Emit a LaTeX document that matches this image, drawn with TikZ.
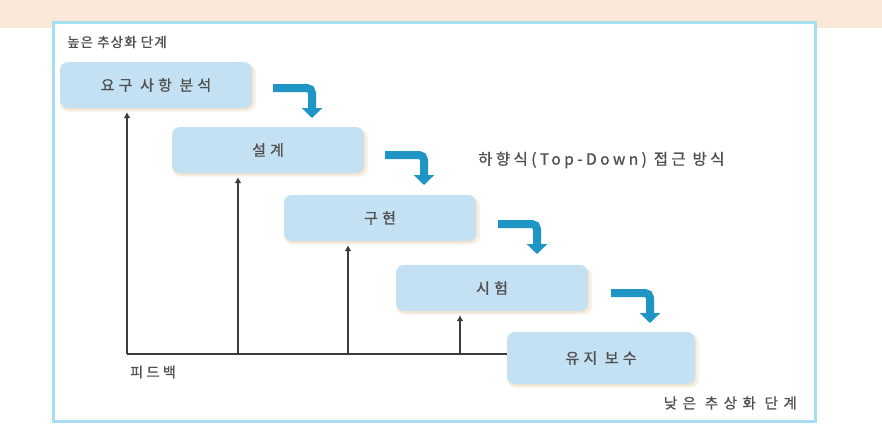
\documentclass[tikz,border=0pt]{standalone}
\usepackage{fontspec}
\setmainfont{Noto Sans CJK KR}
\newfontfamily\lblA[LetterSpace=8,FakeBold=0.8]{Noto Sans CJK KR}
\newfontfamily\lblB[LetterSpace=38,FakeBold=0.8]{Noto Sans CJK KR}
\newfontfamily\lblC[LetterSpace=22,FakeBold=0.8]{Noto Sans CJK KR}
\newfontfamily\lblD[LetterSpace=25,FakeBold=0.8]{Noto Sans CJK KR}
\newfontfamily\boxf[LetterSpace=28,FakeBold=0.8]{Noto Sans CJK KR}
\usetikzlibrary{arrows.meta,shadows}
\definecolor{peach}{HTML}{FCE8D9}
\definecolor{framec}{HTML}{A6E0F0}
\definecolor{boxc}{HTML}{C3E1F2}
\definecolor{shadc}{HTML}{EAD9BE}
\definecolor{arrc}{HTML}{1F95C5}
\definecolor{linec}{HTML}{3C3C3C}
\definecolor{txtc}{HTML}{505050}
\tikzset{
  stage/.style={draw=none, fill=boxc, rounded corners=8pt, minimum width=192pt, minimum height=46pt,
    font=\boxf\fontsize{15}{17}\selectfont, text=txtc,
    general shadow={fill=shadc, opacity=0.35, shadow xshift=2pt, shadow yshift=-3pt, shadow scale=1.02},
    general shadow={fill=shadc, opacity=0.5, shadow xshift=1pt, shadow yshift=-2pt}},
  bendarrow/.style={draw=arrc, line width=8pt, rounded corners=5pt,
    -{Triangle[width=20pt,length=10pt]}},
  fbline/.style={draw=linec, line width=1.3pt},
  fbarrow/.style={fbline, -{Latex[length=6pt,width=7pt]}, shorten >=4pt},
  label/.style={text=txtc, inner sep=0pt}
}
\begin{document}
\begin{tikzpicture}[x=1pt,y=-1pt]
\useasboundingbox (0,0) rectangle (882,444);
\fill[white] (0,0) rectangle (882,444);
\fill[peach] (0,0) rectangle (882,28);
\draw[framec, line width=3pt, fill=white] (53,23) rectangle (815,421);

\node[label, anchor=west, font=\lblA\fontsize{13.5}{15}\selectfont] (hi) at (67,42) {높은 추상화 단계};
\node[label, anchor=east, font=\lblB\fontsize{14.5}{16}\selectfont] (lo) at (797,403) {낮은 추상화 단계};
\node[label, anchor=west, font=\lblC\fontsize{15.5}{17}\selectfont] (td) at (478,160) {하향식(Top-Down) 접근 방식};
\node[label, anchor=west, font=\lblD\fontsize{14}{16}\selectfont] (fb) at (130,372) {피드백};

\node[stage] (b1) at (156,85) {요구 사항 분석};
\node[stage] (b2) at (268,150) {설계};
\node[stage] (b3) at (380,218) {구현};
\node[stage] (b4) at (492,288) {시험};
\node[stage, minimum height=52pt, minimum width=188pt] (b5) at (601,358) {유지 보수};

\coordinate (a1s) at (273,88); \coordinate (a1c) at (312,88); \coordinate (a1e) at (312,118);
\coordinate (a2s) at (385,155); \coordinate (a2c) at (424,155); \coordinate (a2e) at (424,185);
\coordinate (a3s) at (498,224); \coordinate (a3c) at (537,224); \coordinate (a3e) at (537,254);
\coordinate (a4s) at (611,293); \coordinate (a4c) at (650,293); \coordinate (a4e) at (650,323);
\draw[bendarrow] (a1s) -- (a1c) -- (a1e);
\draw[bendarrow] (a2s) -- (a2c) -- (a2e);
\draw[bendarrow] (a3s) -- (a3c) -- (a3e);
\draw[bendarrow] (a4s) -- (a4c) -- (a4e);

\coordinate (f1) at (127,354);
\coordinate (f2) at (238,354);
\coordinate (f3) at (348,354);
\coordinate (f4) at (460,354);
\draw[fbline] (f1) -- (f1 -| b5.west);
\draw[fbarrow] (f1) -- (f1 |- b1.south);
\draw[fbarrow] (f2) -- (f2 |- b2.south);
\draw[fbarrow] (f3) -- (f3 |- b3.south);
\draw[fbarrow] (f4) -- (f4 |- b4.south);
\end{tikzpicture}
\end{document}
